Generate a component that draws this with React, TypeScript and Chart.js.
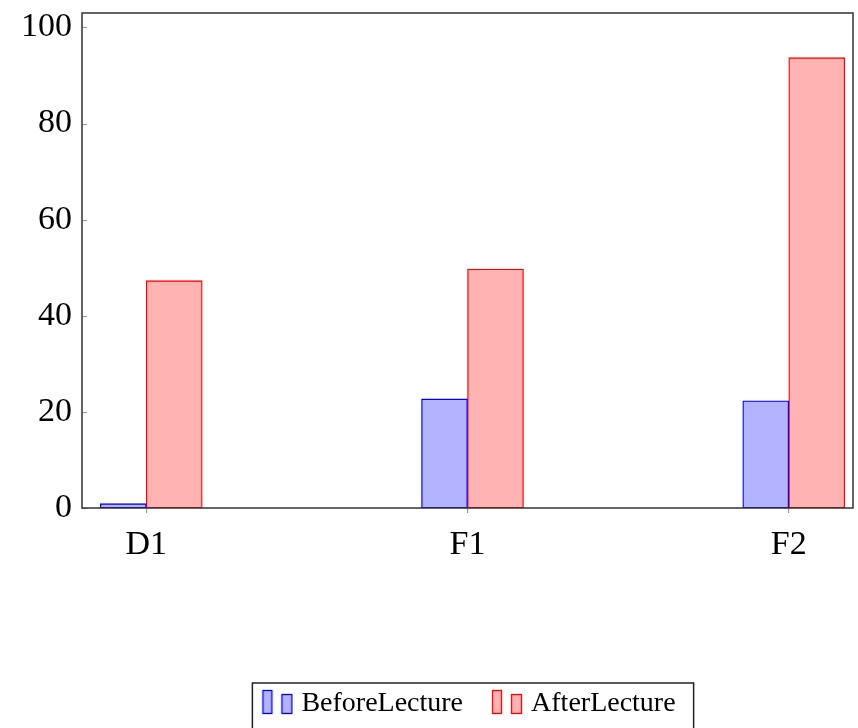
import React, { useEffect, useRef } from "react";
import { Chart, registerables } from "chart.js";

Chart.register(...registerables);

const categories = ["D1", "F1", "F2"];
const seriesNames = ["BeforeLecture", "AfterLecture"];
const beforeLecture = [0.9, 22.7, 22.3];
const afterLecture = [47.3, 49.7, 93.7];
const yTicks = [0, 20, 40, 60, 80, 100];
const yMax = 103;

const FONT = "'Liberation Serif', 'Times New Roman', serif";
const BLUE_FILL = "#b3b3ff";
const BLUE_LINE = "#0000ff";
const RED_FILL = "#ffb3b3";
const RED_LINE = "#ff0000";
const LEGEND_SHIFT = 33;

function makeIcon(fill: string, stroke: string) {
  const c = document.createElement("canvas");
  c.width = 56;
  c.height = 30;
  const ctx = c.getContext("2d")!;
  ctx.fillStyle = fill;
  ctx.strokeStyle = stroke;
  ctx.lineWidth = 1.3;
  ctx.fillRect(25.5, 1.5, 9, 23);
  ctx.strokeRect(25.5, 1.5, 9, 23);
  ctx.fillRect(44.5, 5.5, 10, 19);
  ctx.strokeRect(44.5, 5.5, 10, 19);
  return c;
}

const framePlugin = {
  id: "frame",
  afterLayout(chart: any) {
    const lg = chart.legend;
    if (lg) {
      lg.left += LEGEND_SHIFT;
      lg.right += LEGEND_SHIFT;
      (lg.legendHitBoxes || []).forEach((h: any) => {
        h.left += LEGEND_SHIFT;
      });
    }
  },
  afterDraw(chart: any) {
    const { ctx, chartArea: a, scales } = chart;
    const y = scales.y;
    ctx.save();
    ctx.strokeStyle = "#9a9a9a";
    ctx.lineWidth = 1.2;
    y.ticks.forEach((t: any) => {
      const py = Math.round(y.getPixelForValue(t.value)) + 0.5;
      ctx.beginPath();
      ctx.moveTo(a.left, py);
      ctx.lineTo(a.left + 5, py);
      ctx.stroke();
    });
    ctx.strokeStyle = "#333333";
    ctx.lineWidth = 1.5;
    ctx.strokeRect(a.left, a.top, a.right - a.left, a.bottom - a.top);
    const hb = chart.legend && chart.legend.legendHitBoxes;
    if (hb && hb.length) {
      const first = hb[0];
      const last = hb[hb.length - 1];
      const left = first.left + 9;
      const right = last.left + last.width + 18;
      const top = first.top - 7;
      const bottom = first.top + first.height + 40;
      ctx.strokeStyle = "#222222";
      ctx.lineWidth = 1.5;
      ctx.strokeRect(left, top, right - left, bottom - top);
    }
    ctx.restore();
  },
};

export default function App() {
  const ref = useRef<HTMLCanvasElement | null>(null);

  useEffect(() => {
    if (!ref.current) return;
    const icons = [makeIcon(BLUE_FILL, BLUE_LINE), makeIcon(RED_FILL, RED_LINE)];
    const chart = new Chart(ref.current, {
      type: "bar",
      data: {
        datasets: [
          {
            label: seriesNames[0],
            data: categories.map((_, i) => ({ x: i, y: beforeLecture[i] })),
            backgroundColor: BLUE_FILL,
            borderColor: BLUE_LINE,
            borderWidth: 1.3,
            borderSkipped: false,
            barThickness: 46,
          },
          {
            label: seriesNames[1],
            data: categories.map((_, i) => ({ x: i, y: afterLecture[i] })),
            backgroundColor: RED_FILL,
            borderColor: RED_LINE,
            borderWidth: 1.3,
            borderSkipped: false,
            barThickness: 56,
          },
        ],
      },
      options: {
        animation: false,
        responsive: true,
        maintainAspectRatio: false,
        layout: { padding: { top: 13, right: 5, left: 0, bottom: 0 } },
        scales: {
          x: {
            type: "linear",
            min: -0.2,
            max: 2.2,
            offset: false,
            afterBuildTicks: (s: any) => {
              s.ticks = categories.map((_, i) => ({ value: i }));
            },
            afterFit: (s: any) => {
              s.height = 172;
              s.paddingLeft = 0;
              s.paddingRight = 0;
            },
            ticks: {
              callback: (v: any) => categories[v] ?? "",
              font: { family: FONT, size: 34 },
              color: "#000",
              padding: 12,
              maxRotation: 0,
              autoSkip: false,
            },
            grid: { offset: false, drawOnChartArea: false, tickLength: 5, color: "#999999", lineWidth: 1.2 },
            border: { display: false },
          },
          y: {
            min: 0,
            max: yMax,
            afterBuildTicks: (s: any) => {
              s.ticks = yTicks.map((v) => ({ value: v }));
            },
            afterFit: (s: any) => {
              s.width = 82;
              s.paddingTop = 0;
              s.paddingBottom = 0;
            },
            ticks: {
              font: { family: FONT, size: 34 },
              color: "#000",
              padding: 10,
            },
            grid: { display: false, drawTicks: false },
            border: { display: false },
          },
        },
        plugins: {
          tooltip: { enabled: false },
          legend: {
            position: "bottom",
            labels: {
              usePointStyle: true,
              pointStyleWidth: 44,
              boxHeight: 28,
              padding: 10,
              color: "#000",
              font: { family: FONT, size: 28 },
              generateLabels: (c: any) => {
                const items = (Chart.defaults.plugins.legend.labels as any).generateLabels(c);
                items.forEach((it: any, i: number) => {
                  it.pointStyle = icons[i];
                });
                return items;
              },
            },
          },
        },
      } as any,
      plugins: [framePlugin],
    });
    return () => chart.destroy();
  }, []);

  return (
    <div style={{ position: "fixed", left: 0, top: 0, width: 858, height: 728, background: "#fff" }}>
      <canvas ref={ref} />
    </div>
  );
}
